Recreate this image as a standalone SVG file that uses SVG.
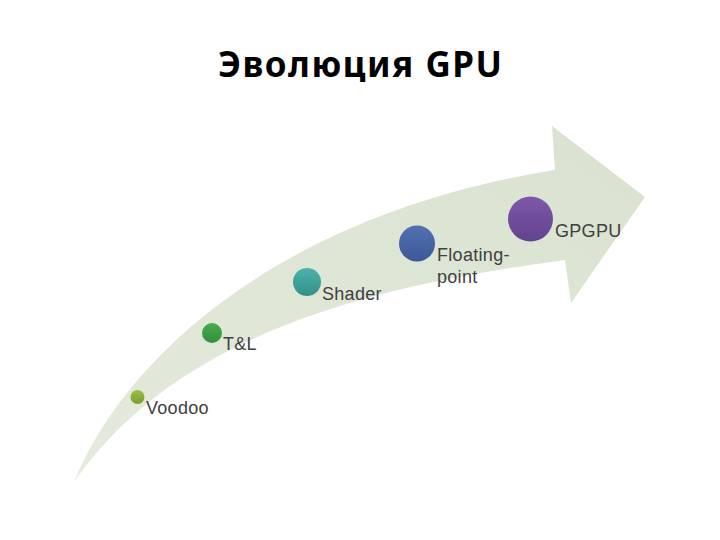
<svg xmlns="http://www.w3.org/2000/svg" width="720" height="540" viewBox="0 0 720 540">
  <style>
    .title { font-family: "Noto Sans", "DejaVu Sans", sans-serif; font-weight: bold; font-size: 35px; fill: #000; }
    .lbl { font-family: "Liberation Sans", Arial, sans-serif; font-size: 18px; letter-spacing: 0.3px; fill: #404040; }
  </style>
  <defs>
    <linearGradient id="arrowFill" x1="0" y1="1" x2="1" y2="0">
      <stop offset="0" stop-color="#e4eadc"/>
      <stop offset="1" stop-color="#d9e2cf"/>
    </linearGradient>
    <linearGradient id="gV" x1="0" y1="0" x2="0" y2="1"><stop offset="0" stop-color="#9bbf45"/><stop offset="1" stop-color="#7a9e2e"/></linearGradient>
    <linearGradient id="gT" x1="0" y1="0" x2="0" y2="1"><stop offset="0" stop-color="#48ad50"/><stop offset="1" stop-color="#358c3d"/></linearGradient>
    <linearGradient id="gS" x1="0" y1="0" x2="0" y2="1"><stop offset="0" stop-color="#4bb3ab"/><stop offset="1" stop-color="#33918b"/></linearGradient>
    <linearGradient id="gF" x1="0" y1="0" x2="0" y2="1"><stop offset="0" stop-color="#5271b2"/><stop offset="1" stop-color="#3d5898"/></linearGradient>
    <linearGradient id="gG" x1="0" y1="0" x2="0" y2="1"><stop offset="0" stop-color="#7d58a9"/><stop offset="1" stop-color="#63428e"/></linearGradient>
  </defs>
  <rect width="720" height="540" fill="#ffffff"/>
  <text class="title" x="360" y="77" text-anchor="middle" textLength="284" lengthAdjust="spacing">Эволюция GPU</text>
  <g id="connectors">
    <path id="arrow" d="M74,482 C128,350 290,212 555,170 L552,126 L645,197 L571,303 L565,260 C380,285 180,330 74,482 Z" fill="url(#arrowFill)"/>
  </g>
  <g id="voodoo">
    <circle cx="137.5" cy="397" r="7" fill="url(#gV)"/>
    <text class="lbl" x="146" y="414">Voodoo</text>
  </g>
  <g id="tl">
    <circle cx="212" cy="333" r="10" fill="url(#gT)"/>
    <text class="lbl" x="223" y="350">T&amp;L</text>
  </g>
  <g id="shader">
    <circle cx="307" cy="282" r="14" fill="url(#gS)"/>
    <text class="lbl" x="322" y="300">Shader</text>
  </g>
  <g id="floating">
    <circle cx="417" cy="243.5" r="18" fill="url(#gF)"/>
    <text class="lbl" x="437" y="261">Floating-</text>
    <text class="lbl" x="437" y="283">point</text>
  </g>
  <g id="gpgpu">
    <circle cx="530.5" cy="219" r="22.5" fill="url(#gG)"/>
    <text class="lbl" x="555" y="237">GPGPU</text>
  </g>
</svg>
